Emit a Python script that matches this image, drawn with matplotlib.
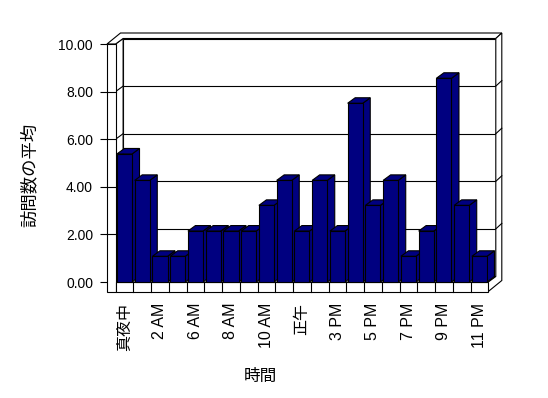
import numpy as np
import matplotlib.pyplot as plt
from matplotlib.patches import Polygon, Rectangle

plt.rcParams['font.family'] = ['Liberation Sans', 'Noto Sans CJK JP']

# 時間帯ごとの訪問数の平均
hours = ['真夜中', '1 AM', '2 AM', '3 AM', '6 AM', '7 AM', '8 AM', '9 AM', '10 AM',
         '11 AM', '正午', '1 PM', '3 PM', '4 PM', '5 PM', '6 PM', '7 PM', '8 PM',
         '9 PM', '10 PM', '11 PM']
visits = [5.38, 4.27, 1.08, 1.08, 2.14, 2.14, 2.14, 2.14, 3.22, 4.27, 2.14, 4.27,
          2.14, 7.51, 3.22, 4.27, 1.08, 2.14, 8.56, 3.22, 1.08]
yticks = [0, 2, 4, 6, 8, 10]

W, H = 548, 398
fig = plt.figure(figsize=(W / 100, H / 100), dpi=100)
fig.patch.set_facecolor('white')

# front plane in pixels
pl, pr, pb, pt = 107, 488.3, 291.5, 44
ax = fig.add_axes([pl / W, 1 - pb / H, (pr - pl) / W, (pb - pt) / H])
n = len(visits)
x0, x1 = -0.5, n - 0.5
pxc = (pr - 115.6) / n          # px per category
wl = (115.6 - pl) / pxc          # left wall thickness
pxv = (282 - pt) / 10            # px per unit
fl = (pb - 282) / pxv            # floor thickness
ax.set_xlim(x0 - wl, x1)
ax.set_ylim(-fl, 10)
for s in ax.spines.values():
    s.set_visible(False)

dx, dy = 7.5 / pxc, 5.5 / pxv    # depth of plot
tx, ty = 6 / pxc, 5.5 / pxv      # back wall thickness
lw = 0.8
kw = dict(fc='white', ec='black', lw=lw, clip_on=False)


def poly(pts, z, **extra):
    d = dict(kw)
    d.update(extra)
    ax.add_patch(Polygon(pts, closed=True, zorder=z, **d))


def line(xs, ys, z):
    ax.plot(xs, ys, color='black', lw=lw, clip_on=False, zorder=z)


# back wall
ax.add_patch(Rectangle((x0 + dx, dy), x1 - x0, 10, zorder=1, **kw))
for v in yticks[1:-1]:
    line([x0 + dx, x1 + dx], [v + dy, v + dy], 1.1)
# left wall inner face
poly([(x0, 0), (x0, 10), (x0 + dx, 10 + dy), (x0 + dx, dy)], 1.2)
for v in yticks[1:-1]:
    line([x0, x0 + dx], [v, v + dy], 1.3)
# floor top
poly([(x0, 0), (x1, 0), (x1 + dx, dy), (x0 + dx, dy)], 1.4)
# top edge of walls
poly([(x0 - wl, 10), (x0, 10), (x0 + dx, 10 + dy), (x1 + dx, 10 + dy),
      (x1 + dx + tx, 10 + dy + ty), (x0 - wl + dx + tx, 10 + dy + ty)], 1.5)
# right side
poly([(x1, 0), (x1, -fl), (x1 + dx + tx, -fl + dy + ty), (x1 + dx + tx, 10 + dy + ty),
      (x1 + dx, 10 + dy), (x1 + dx, dy)], 1.5)
for v in yticks[1:-1]:
    line([x1 + dx, x1 + dx + tx], [v + dy, v + dy + ty], 1.6)
# left wall front face
ax.add_patch(Rectangle((x0 - wl, -fl), wl, 10 + fl, zorder=2, **kw))
for v in yticks[1:-1]:
    line([x0 - wl, x0], [v, v], 2.1)
# floor front face
ax.add_patch(Rectangle((x0, -fl), x1 - x0, fl, zorder=2, **kw))
for k in range(1, n):
    line([x0 + k, x0 + k], [-fl, 0], 2.1)

# bars
bw = 0.85
col = '#000080'
for i, v in enumerate(visits):
    z = 10 + 2 * i
    ax.bar(i, v, width=bw, color=col, edgecolor='black', lw=lw, zorder=z + 1)
    r, l = i + bw / 2, i - bw / 2
    poly([(r, 0), (r + dx, dy), (r + dx, v + dy), (r, v)], z, fc=col)
    poly([(l, v), (r, v), (r + dx, v + dy), (l + dx, v + dy)], z, fc=col)

ax.set_yticks(yticks)
ax.set_yticklabels([f'{v:.2f}' for v in yticks], fontsize=10)
ax.tick_params(axis='y', length=5, width=lw, direction='out', pad=5)
ax.set_xticks(range(0, n, 2))
ax.set_xticklabels(hours[::2], rotation=90, fontsize=11.5, va='top')
ax.tick_params(axis='x', length=0, pad=8)

fig.text(29 / W, 1 - 175 / H, '訪問数の平均', rotation=90, ha='center', va='center', fontsize=12.5)
fig.text(260 / W, 1 - 376 / H, '時間', ha='center', va='center', fontsize=12)

fig.savefig('out.png', dpi=100)
